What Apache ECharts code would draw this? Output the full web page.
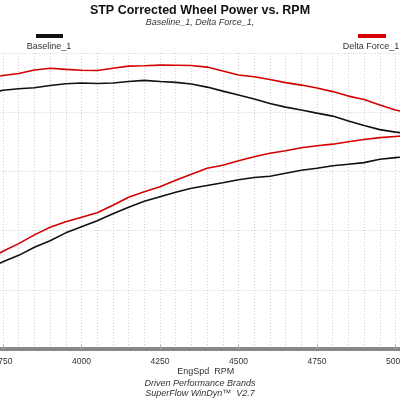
<!DOCTYPE html>
<html><head><meta charset="utf-8">
<script src="https://cdn.jsdelivr.net/npm/echarts@6/dist/echarts.min.js"></script>
<style>html,body{margin:0;padding:0;background:#fff}#c{width:400px;height:400px}</style>
</head><body><div id="c"></div>
<script>
const rpm = [3740,3750,3800,3850,3900,3950,4000,4050,4100,4150,4200,4250,4300,4350,4400,4450,4500,4550,4600,4650,4700,4750,4800,4850,4900,4950,5000,5016];
const deltaUpper = [330.5,331.0,332.7,335.6,337.1,336.2,335.4,335.2,337.1,338.9,339.2,339.8,339.6,339.4,338.1,334.8,331.4,329.9,327.6,325.0,322.9,320.4,317.4,313.6,310.7,306.0,301.8,300.9];
const baseUpper = [318.0,318.5,319.8,320.6,322.5,324.0,324.7,324.2,324.6,325.9,326.9,325.9,325.2,323.8,321.2,317.8,314.5,311.1,307.3,304.3,301.8,299.2,296.7,292.5,288.7,285.3,283.2,282.7];
const deltaLower = [181.0,182.5,189.0,196.4,202.8,207.4,211.2,215.1,221.4,228.2,232.8,237.1,242.6,247.6,252.7,255.2,259.0,262.4,265.4,267.5,270.0,271.7,273.0,275.1,277.0,278.5,279.5,279.8];
const baseLower = [172.5,173.6,179.1,185.9,191.4,198.1,203.2,208.3,214.2,219.7,224.8,228.6,232.4,235.8,238.1,240.4,243.0,244.8,245.9,248.5,251.0,252.7,254.8,256.1,257.4,260.3,261.6,262.0];
const seriesNames = ['Baseline_1','Delta Force_1'];
const titleText = 'STP Corrected Wheel Power vs. RPM';
const subText = 'Baseline_1, Delta Force_1,';
const xName = 'EngSpd  RPM';
const footer1 = 'Driven Performance Brands';
const footer2 = 'SuperFlow WinDyn\u2122  V2.7';

const RED = '#d40000', BLACK = '#111111';
const pair = arr => rpm.map((r,i)=>[r,arr[i]]);
const FONT = '"Liberation Sans", Arial, sans-serif';
const chart = echarts.init(document.getElementById('c'), null, {renderer:'canvas'});
const lineS = (name, data, color) => ({type:'line', name, data, showSymbol:false, symbol:'none', smooth:false, clip:true, lineStyle:{color, width:1.6}, itemStyle:{color}, animation:false});
const GRIDC = '#cdcdcd';
chart.setOption({
  backgroundColor:'#fff',
  animation:false,
  title:[
    {text:titleText, left:'center', top:4, padding:0, textStyle:{fontFamily:FONT, fontSize:12.5, fontWeight:'bold', color:'#111'}},
    {text:subText, left:'center', top:18, padding:0, textStyle:{fontFamily:FONT, fontSize:9, fontStyle:'italic', fontWeight:'normal', color:'#333'}},
    {text:footer1, left:'center', top:379, padding:0, textStyle:{fontFamily:FONT, fontSize:9, fontStyle:'italic', fontWeight:'normal', color:'#333'}},
    {text:footer2, left:'center', top:389, padding:0, textStyle:{fontFamily:FONT, fontSize:9, fontStyle:'italic', fontWeight:'normal', color:'#333'}}
  ],
  graphic:[
    {type:'rect', shape:{x:36,y:34,width:27,height:4}, style:{fill:BLACK}},
    {type:'text', x:49, y:47, style:{text:seriesNames[0], fill:'#333', font:'9px '+FONT, textAlign:'center', textVerticalAlign:'middle'}},
    {type:'rect', shape:{x:358,y:34,width:28,height:4}, style:{fill:RED}},
    {type:'text', x:371, y:47, style:{text:seriesNames[1], fill:'#333', font:'9px '+FONT, textAlign:'center', textVerticalAlign:'middle'}}
  ],
  grid:{left:-75.5, right:-74, top:53, height:296, containLabel:false, outerBoundsMode:'none'},
  xAxis:{type:'value', min:3500, max:5250, interval:250, splitNumber:7,
    name:xName, nameLocation:'middle', nameGap:18, nameMoveOverlap:false, nameTextStyle:{fontFamily:FONT, fontSize:9, color:'#333', padding:[0,0,0,13]},
    axisLine:{show:true, onZero:false, lineStyle:{color:'#888', width:4}},
    axisTick:{show:true, inside:true, length:4, lineStyle:{color:'#aaa', width:1}},
    minorTick:{show:false, splitNumber:5},
    axisLabel:{fontFamily:FONT, fontSize:8.5, color:'#333', margin:8, formatter: v => String(v)},
    splitLine:{show:true, lineStyle:{color:GRIDC, type:[1,2], width:1}},
    minorSplitLine:{show:true, lineStyle:{color:GRIDC, type:[1,2], width:1}}
  },
  yAxis:{type:'value', min:100, max:350, interval:50,
    axisLine:{show:false}, axisTick:{show:false}, axisLabel:{show:false},
    splitLine:{show:true, lineStyle:{color:GRIDC, type:[1,2], width:1}}
  },
  series:[
    lineS(seriesNames[1]+' upper', pair(deltaUpper), RED),
    lineS(seriesNames[0]+' upper', pair(baseUpper), BLACK),
    lineS(seriesNames[1]+' lower', pair(deltaLower), RED),
    lineS(seriesNames[0]+' lower', pair(baseLower), BLACK)
  ]
});
</script></body></html>
